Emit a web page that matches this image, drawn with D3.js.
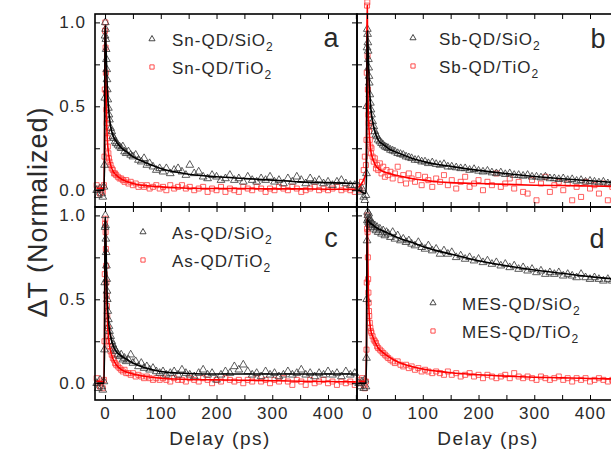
<!DOCTYPE html>
<html><head><meta charset="utf-8">
<script src="https://cdn.jsdelivr.net/npm/d3@7"></script>
<style>
body{margin:0;background:#fff}
svg{display:block}
text{font-family:"Liberation Sans",Arial,sans-serif;fill:#2a2a2a}
</style>
</head><body>
<svg id="chart" width="611" height="449"></svg>
<script>
// ---------------- DATA ----------------
const delays = [-15,-12,-9,-6,-4,-2,-1,-0.5,0,0.5,1,1.5,2,2.5,3,3.5,4,5,6,7,8,10,12,14,16,18,20,23,26,29,32,35,38,42,46,50,55,60,65,70,75,80,86,92,98,104,110,117,124,131,138,145,152,160,168,176,184,192,200,208,216,224,232,240,248,256,264,272,280,288,296,304,312,320,328,336,344,352,360,368,376,384,392,400,408,416,424,432,440,448];

const snSiO2 = [0.0,-0.03,0.01,-0.02,-0.04,0.02,0.15,0.55,0.92,1.0,0.96,0.9,0.84,0.78,0.72,0.66,0.6,0.54,0.49,0.45,0.42,0.37,0.35,0.32,0.31,0.29,0.28,0.27,0.26,0.25,0.26,0.23,0.22,0.23,0.21,0.2,0.21,0.18,0.17,0.19,0.15,0.16,0.14,0.12,0.13,0.11,0.13,0.1,0.12,0.13,0.11,0.09,0.15,0.1,0.11,0.08,0.07,0.09,0.08,0.06,0.07,0.09,0.06,0.07,0.05,0.08,0.06,0.05,0.07,0.06,0.08,0.05,0.06,0.04,0.07,0.05,0.08,0.06,0.04,0.07,0.05,0.06,0.04,0.05,0.03,0.05,0.06,0.04,0.03,0.03];
const snTiO2 = [0.03,0.01,-0.02,0.0,-0.01,0.03,0.2,0.6,0.95,1.0,0.85,0.7,0.58,0.48,0.4,0.35,0.31,0.26,0.22,0.19,0.17,0.15,0.13,0.12,0.1,0.1,0.09,0.08,0.07,0.07,0.06,0.05,0.06,0.04,0.05,0.03,0.04,0.02,0.03,0.02,0.03,0.01,0.02,0.03,0.01,0.02,0.0,0.03,0.01,0.02,0.03,0.01,0.02,0.0,0.01,0.02,-0.01,0.01,0.0,0.02,-0.01,0.01,0.0,-0.01,0.02,0.01,0.0,0.02,0.01,-0.01,0.01,0.0,0.02,0.01,0.0,0.02,0.01,-0.01,0.0,0.01,0.02,0.0,0.01,0.0,0.01,0.02,0.0,0.01,0.0,-0.01];

const sbSiO2 = [0.02,-0.01,0.01,-0.04,-0.06,-0.03,0.1,0.5,0.85,0.96,0.93,0.88,0.83,0.78,0.73,0.68,0.64,0.57,0.52,0.48,0.45,0.41,0.38,0.35,0.33,0.32,0.3,0.29,0.28,0.27,0.26,0.255,0.25,0.24,0.235,0.23,0.22,0.215,0.21,0.2,0.195,0.19,0.18,0.18,0.17,0.17,0.16,0.165,0.155,0.15,0.155,0.14,0.14,0.135,0.13,0.13,0.12,0.125,0.115,0.11,0.115,0.105,0.1,0.105,0.095,0.1,0.09,0.09,0.085,0.09,0.08,0.08,0.075,0.08,0.07,0.07,0.065,0.07,0.06,0.065,0.055,0.06,0.05,0.055,0.05,0.045,0.05,0.04,0.045,0.04];
const sbTiO2 = [0.02,0.0,0.05,0.12,0.2,0.15,0.3,0.7,1.1,1.12,0.8,0.6,0.5,0.45,0.4,0.35,0.38,0.3,0.26,0.22,0.25,0.2,0.17,0.19,0.13,0.15,0.12,0.16,0.1,0.14,0.08,0.12,0.09,0.11,0.07,0.1,0.14,0.06,0.09,0.04,0.1,0.07,0.05,0.09,0.03,0.08,0.06,0.02,0.07,0.05,0.09,0.03,0.06,0.01,0.05,0.08,0.02,0.04,0.06,0.0,0.05,0.03,0.1,0.02,0.04,0.07,0.01,0.05,-0.01,-0.02,0.06,-0.06,0.04,0.08,-0.01,0.03,0.05,0.0,0.04,-0.06,0.02,-0.04,0.05,0.01,0.03,-0.02,0.04,-0.06,0.02,0.03];

const asSiO2 = [0.0,-0.03,0.02,-0.02,-0.04,0.01,0.2,0.6,0.93,1.0,0.94,0.86,0.78,0.7,0.62,0.55,0.5,0.43,0.38,0.34,0.31,0.28,0.25,0.23,0.21,0.2,0.19,0.17,0.16,0.17,0.14,0.15,0.13,0.14,0.17,0.12,0.13,0.1,0.12,0.09,0.1,0.08,0.09,0.07,0.06,0.07,0.05,0.06,0.07,0.05,0.08,0.06,0.05,0.04,0.06,0.08,0.05,0.06,0.02,0.05,0.07,0.06,0.1,0.08,0.11,0.07,0.05,0.06,0.04,0.07,0.05,0.06,0.04,0.05,0.07,0.05,0.06,0.08,0.05,0.06,0.04,0.06,0.05,0.07,0.05,0.06,0.04,0.07,0.05,0.06];
const asTiO2 = [0.03,0.0,-0.02,0.01,-0.03,0.02,0.25,0.65,0.95,0.98,0.9,0.8,0.7,0.6,0.52,0.46,0.4,0.33,0.28,0.25,0.22,0.19,0.17,0.15,0.14,0.12,0.11,0.1,0.09,0.08,0.07,0.08,0.06,0.06,0.05,0.06,0.04,0.05,0.04,0.03,0.04,0.03,0.02,0.03,0.02,0.03,0.02,0.01,0.03,0.02,0.02,0.01,0.03,0.02,0.01,0.03,0.02,0.0,0.02,0.01,0.03,0.02,0.01,0.02,0.0,0.02,0.01,0.03,0.01,0.02,0.0,0.02,0.01,0.03,0.01,-0.01,0.02,0.01,-0.01,0.02,0.0,0.01,0.02,0.0,0.01,-0.01,0.01,0.0,0.01,-0.01];

const mesSiO2 = [0.0,-0.02,0.01,-0.03,0.02,-0.02,0.15,0.5,0.85,0.97,1.02,1.0,0.98,0.96,1.01,0.97,0.95,0.98,0.94,0.96,0.93,0.95,0.92,0.94,0.91,0.93,0.9,0.92,0.89,0.91,0.88,0.9,0.89,0.87,0.9,0.86,0.88,0.85,0.86,0.84,0.85,0.83,0.82,0.84,0.81,0.8,0.82,0.79,0.8,0.77,0.79,0.77,0.78,0.75,0.76,0.74,0.75,0.73,0.74,0.72,0.73,0.71,0.72,0.7,0.71,0.69,0.7,0.68,0.69,0.67,0.68,0.66,0.67,0.65,0.66,0.65,0.66,0.64,0.65,0.64,0.63,0.65,0.63,0.62,0.63,0.62,0.61,0.62,0.61,0.6];
const mesTiO2 = [0.02,0.0,0.03,-0.01,-0.03,0.01,0.2,0.6,0.92,1.0,0.9,0.75,0.62,0.54,0.48,0.43,0.4,0.36,0.33,0.31,0.3,0.28,0.26,0.25,0.24,0.22,0.21,0.2,0.19,0.18,0.17,0.16,0.15,0.14,0.13,0.12,0.13,0.11,0.1,0.11,0.09,0.1,0.08,0.09,0.07,0.08,0.07,0.06,0.07,0.06,0.05,0.07,0.05,0.06,0.04,0.05,0.06,0.04,0.05,0.03,0.05,0.04,0.03,0.04,0.05,0.03,0.06,0.04,0.03,0.04,0.03,0.02,0.04,0.03,0.02,0.03,0.04,0.02,0.03,0.01,0.03,0.02,0.03,0.01,0.02,0.03,0.02,0.01,0.02,0.02];

// fitted curves
const fitDelays = [-15,-2,-1,-0.5,0,0.5,1,2,3,4,5,7,10,15,20,30,40,50,65,80,100,125,150,200,250,300,350,400,450];
const snSiO2Fit = [0,0,0.15,0.55,0.92,0.98,0.95,0.83,0.72,0.62,0.55,0.46,0.38,0.32,0.29,0.25,0.225,0.2,0.175,0.155,0.13,0.11,0.095,0.08,0.07,0.06,0.05,0.045,0.04];
const snTiO2Fit = [0.01,0.01,0.2,0.6,0.95,0.98,0.85,0.58,0.4,0.31,0.26,0.2,0.15,0.11,0.09,0.065,0.05,0.04,0.03,0.025,0.02,0.015,0.012,0.01,0.01,0.008,0.008,0.006,0.005];
const sbSiO2Fit = [0,-0.02,0.1,0.5,0.85,0.95,0.93,0.83,0.73,0.64,0.57,0.48,0.41,0.34,0.3,0.27,0.245,0.23,0.21,0.19,0.172,0.155,0.142,0.118,0.099,0.082,0.068,0.056,0.045];
const sbTiO2Fit = [0.02,0.1,0.3,0.7,1.1,1.1,0.8,0.5,0.4,0.34,0.3,0.23,0.19,0.15,0.13,0.11,0.1,0.09,0.08,0.07,0.06,0.05,0.045,0.04,0.035,0.03,0.028,0.025,0.022];
const asSiO2Fit = [0,0,0.2,0.6,0.93,0.99,0.94,0.78,0.62,0.5,0.43,0.34,0.28,0.22,0.19,0.16,0.14,0.12,0.1,0.085,0.07,0.062,0.058,0.055,0.055,0.055,0.055,0.055,0.055];
const asTiO2Fit = [0.01,0.01,0.25,0.65,0.95,0.98,0.9,0.7,0.52,0.4,0.33,0.25,0.19,0.14,0.11,0.08,0.065,0.055,0.045,0.037,0.03,0.025,0.022,0.02,0.018,0.015,0.012,0.01,0.008];
const mesSiO2Fit = [0,0,0.15,0.5,0.85,0.97,0.98,0.97,0.965,0.96,0.955,0.95,0.945,0.93,0.92,0.905,0.89,0.875,0.855,0.84,0.815,0.79,0.77,0.73,0.7,0.675,0.655,0.635,0.62];
const mesTiO2Fit = [0.01,0.01,0.2,0.6,0.92,0.98,0.9,0.62,0.48,0.4,0.36,0.31,0.28,0.24,0.21,0.18,0.155,0.135,0.115,0.1,0.085,0.072,0.062,0.05,0.042,0.036,0.032,0.028,0.025];

const panelLetters = ["a","b","c","d"];
const legendLabels = [
  ["Sn-QD/SiO2","Sn-QD/TiO2"],
  ["Sb-QD/SiO2","Sb-QD/TiO2"],
  ["As-QD/SiO2","As-QD/TiO2"],
  ["MES-QD/SiO2","MES-QD/TiO2"]
];
const xTickValues = [0,50,100,150,200,250,300,350,400,450];
const xTickLabels = [0,100,200,300,400];
const yTickValues = [0,0.25,0.5,0.75,1.0];
const yTickLabels = [0,0.5,1.0];
const xTitle = "Delay (ps)";
const yTitle = "\u0394T (Normalized)";

// ---------------- LAYOUT ----------------
const xDomain = [-18, 452];
const yDomain = [-0.1, 1.05];
const seriesSi = [snSiO2, sbSiO2, asSiO2, mesSiO2];
const seriesTi = [snTiO2, sbTiO2, asTiO2, mesTiO2];
const fitSi = [snSiO2Fit, sbSiO2Fit, asSiO2Fit, mesSiO2Fit];
const fitTi = [snTiO2Fit, sbTiO2Fit, asTiO2Fit, mesTiO2Fit];

const layout = [
  {xr:[95,357], yr:[207,14], left:true, bottom:false, leg:{mx:152, tx:172, y:46}, letter:{x:331, y:47}},
  {xr:[357,619], yr:[207,14], left:false, bottom:false, leg:{mx:413, tx:439, y:45}, letter:{x:598, y:48}},
  {xr:[95,357], yr:[400,207], left:true, bottom:true, leg:{mx:143, tx:172, y:239}, letter:{x:331, y:247}},
  {xr:[357,619], yr:[400,207], left:false, bottom:true, leg:{mx:433, tx:462, y:310}, letter:{x:597, y:248}}
];

const BLACK = "#333";
const RED = "#ff3a3a";
const svg = d3.select("#chart");
svg.append("rect").attr("width",611).attr("height",449).attr("fill","#fff");

const triangle = d3.symbol().type(d3.symbolTriangle).size(26);
const square = d3.symbol().type(d3.symbolSquare).size(25);
const triLeg = d3.symbol().type(d3.symbolTriangle).size(16);
const sqLeg = d3.symbol().type(d3.symbolSquare).size(18);

layout.forEach((L, i) => {
  const x = d3.scaleLinear().domain(xDomain).range(L.xr);
  const y = d3.scaleLinear().domain(yDomain).range(L.yr);
  const g = svg.append("g");

  const ptsTi = delays.map((t, k) => [t, seriesTi[i][k]]);
  const ptsSi = delays.map((t, k) => [t, seriesSi[i][k]]);

  g.append("g").selectAll("path").data(ptsTi).join("path")
    .attr("d", square)
    .attr("transform", d => `translate(${x(d[0])},${y(d[1])})`)
    .attr("fill","none").attr("stroke",RED).attr("stroke-width",0.8);
  g.append("g").selectAll("path").data(ptsSi).join("path")
    .attr("d", triangle)
    .attr("transform", d => `translate(${x(d[0])},${y(d[1])})`)
    .attr("fill","none").attr("stroke",BLACK).attr("stroke-width",0.8);

  const line = d3.line().x(d => x(d[0])).y(d => y(d[1])).curve(d3.curveMonotoneX);
  g.append("path").datum(fitDelays.map((t,k)=>[t, fitTi[i][k]]))
    .attr("d", line).attr("fill","none").attr("stroke","#ff0000").attr("stroke-width",1.6);
  g.append("path").datum(fitDelays.map((t,k)=>[t, fitSi[i][k]]))
    .attr("d", line).attr("fill","none").attr("stroke","#000").attr("stroke-width",1.6);

  // axes (inward ticks)
  const styleAxis = sel => {
    sel.attr("font-size", null).attr("font-family", null);
    sel.select(".domain").remove();
    sel.selectAll(".tick line").attr("stroke","#000").attr("stroke-width",1);
    sel.selectAll(".tick text").style("font-size","17px").style("letter-spacing","1px").attr("fill","#2a2a2a");
  };
  g.append("g").attr("transform",`translate(0,${L.yr[0]})`)
    .call(d3.axisBottom(x).tickValues(xTickValues).tickSize(-5).tickPadding(7)
      .tickFormat(d => (L.bottom && xTickLabels.includes(d)) ? d : ""))
    .call(styleAxis);
  g.append("g").attr("transform",`translate(0,${L.yr[1]})`)
    .call(d3.axisTop(x).tickValues(xTickValues).tickSize(-5).tickFormat(""))
    .call(styleAxis);
  g.append("g").attr("transform",`translate(${L.xr[0]},0)`)
    .call(d3.axisLeft(y).tickValues(yTickValues).tickSize(-5).tickPadding(9)
      .tickFormat(d => (L.left && yTickLabels.includes(d)) ? d3.format(".1f")(d) : ""))
    .call(styleAxis);
  g.append("g").attr("transform",`translate(${L.xr[1]},0)`)
    .call(d3.axisRight(y).tickValues(yTickValues).tickSize(-5).tickFormat(""))
    .call(styleAxis);

  // frame
  g.append("rect").attr("x",L.xr[0]).attr("y",L.yr[1])
    .attr("width",L.xr[1]-L.xr[0]).attr("height",L.yr[0]-L.yr[1])
    .attr("fill","none").attr("stroke","#000").attr("stroke-width",1.6);

  // legend
  const legG = g.append("g");
  legendLabels[i].forEach((lab, r) => {
    const by = L.leg.y + r*28;
    legG.append("path").attr("d", r===0 ? triLeg : sqLeg)
      .attr("transform",`translate(${L.leg.mx},${by-7})`)
      .attr("fill","none").attr("stroke", r===0 ? BLACK : RED).attr("stroke-width",0.9);
    const t = legG.append("text").attr("x",L.leg.tx).attr("y",by)
      .style("font-size","17px").style("letter-spacing","1px");
    t.append("tspan").text(lab.slice(0,-1));
    t.append("tspan").attr("dy",5).style("font-size","12px").text(lab.slice(-1));
  });

  // panel letter
  g.append("text").attr("x",L.letter.x).attr("y",L.letter.y)
    .attr("text-anchor","middle").style("font-size","27px").text(panelLetters[i]);

  if (L.bottom) {
    g.append("text").attr("x",(L.xr[0]===95)?220:488).attr("y",445)
      .attr("text-anchor","middle").style("font-size","19px").style("letter-spacing","1.5px")
      .text(xTitle);
  }
});

svg.append("text").attr("transform","translate(47,212) rotate(-90)")
  .attr("text-anchor","middle").style("font-size","27px").style("letter-spacing","1px")
  .text(yTitle);
</script>
</body></html>
